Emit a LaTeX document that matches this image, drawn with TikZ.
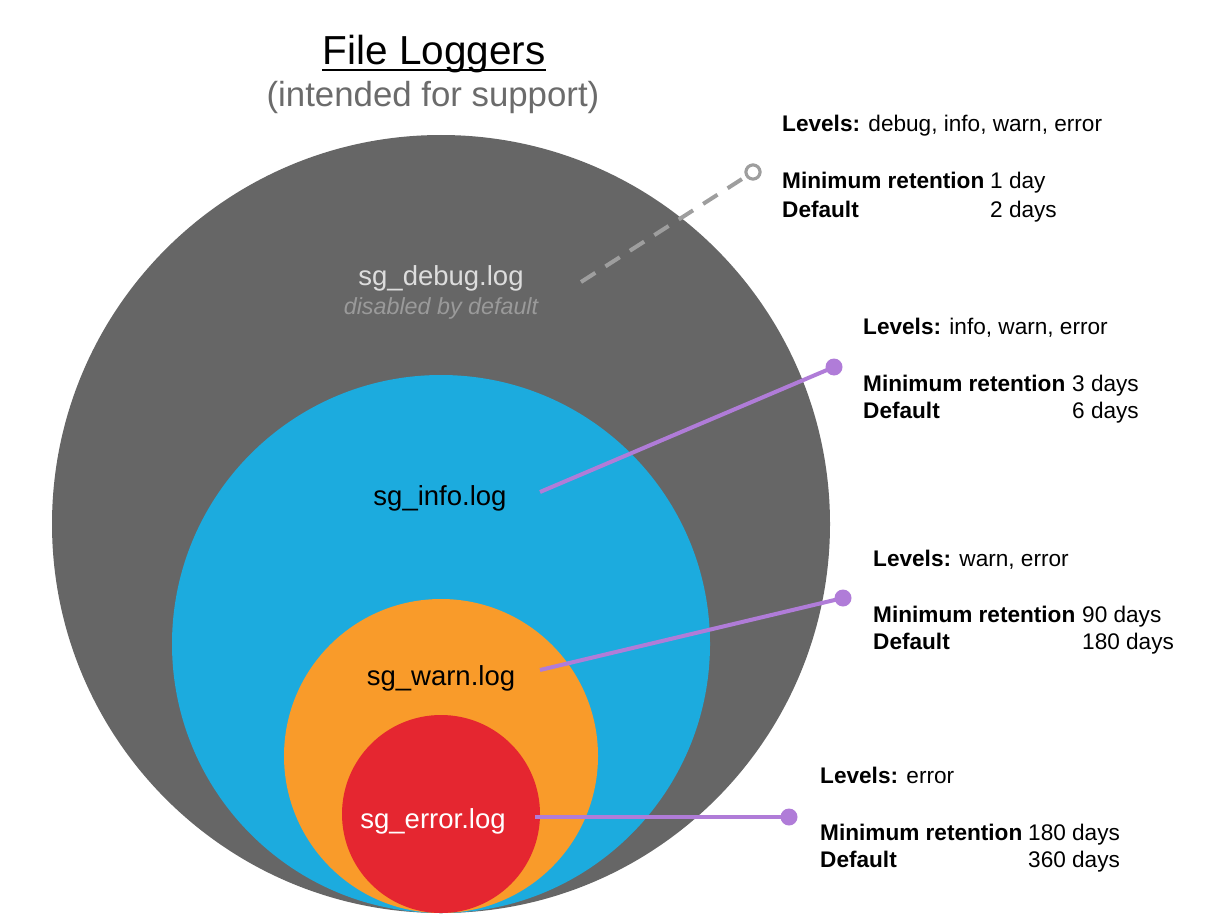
\documentclass[tikz,border=0pt]{standalone}
\usepackage{fontspec}
\setmainfont{Liberation Sans}
\definecolor{cgray}{HTML}{666666}
\definecolor{cblue}{HTML}{1CABDE}
\definecolor{corange}{HTML}{F99B2A}
\definecolor{cred}{HTML}{E52630}
\definecolor{cpurple}{HTML}{B07CD8}
\definecolor{cdash}{HTML}{9E9E9E}
\definecolor{csub}{HTML}{6B6B6B}
\definecolor{cdebugtxt}{HTML}{DDDDDD}
\definecolor{cdisabled}{HTML}{9A9A9A}
\begin{document}
\begin{tikzpicture}[x=1pt,y=-1pt,
  ring/.style={circle,inner sep=0pt,draw=none},
  info/.style={anchor=base west,inner sep=0pt,font=\fontsize{22.6}{27}\selectfont},
  logname/.style={inner sep=0pt,font=\fontsize{27.5}{32}\selectfont},
  pline/.style={draw=cpurple,line width=4pt},
  pdot/.style={circle,fill=cpurple,inner sep=0pt,minimum size=17pt},
  odot/.style={circle,draw=cdash,line width=3pt,fill=white,inner sep=0pt,minimum size=14pt},
  dline/.style={draw=cdash,line width=4pt,dash pattern=on 17pt off 12pt}]
\useasboundingbox (0,0) rectangle (1206,920);
% circles
\node[ring,fill=cgray,minimum size=778pt] (cdebug) at (441,524) {};
\node[ring,fill=cblue,minimum size=538pt] (cinfo) at (441,644) {};
\node[ring,fill=corange,minimum size=314pt] (cwarn) at (441,756) {};
\node[ring,fill=cred,minimum size=198pt] (cerror) at (441,814) {};
% title
\node[anchor=base,inner sep=0pt,font=\fontsize{40.5}{46}\selectfont] (title) at (434,65) {File Loggers};
\draw[line width=2.5pt] ([yshift=-5pt]title.base west) -- ([yshift=-5pt]title.base east);
\node[anchor=base,inner sep=0pt,text=csub,font=\fontsize{34.8}{41}\selectfont] (subtitle) at (433,107) {(intended for support)};
% log names
\node[logname,anchor=base,text=cdebugtxt] (ldebug) at (441,285) {sg\_debug.log};
\node[anchor=base,inner sep=0pt,text=cdisabled,font=\fontsize{23.3}{27}\selectfont\itshape] (ldisabled) at (441,314) {disabled by default};
\node[logname,anchor=base,text=black] (linfo) at (440,505) {sg\_info.log};
\node[logname,anchor=base,text=black] (lwarn) at (441,685) {sg\_warn.log};
\node[logname,anchor=base,text=white] (lerror) at (433,828) {sg\_error.log};
% connectors
\coordinate (dA) at (581,282);
\node[odot] (dB) at (753,172) {};
\draw[dline] (dA) -- (dB);
\node[odot] at (753,172) {};
\coordinate (iA) at (540,492);
\node[pdot] (iB) at (834,367) {};
\draw[pline] (iA) -- (iB.center);
\coordinate (wA) at (540,670);
\node[pdot] (wB) at (843,598) {};
\draw[pline] (wA) -- (wB.center);
\coordinate (eA) at (535,817);
\node[pdot] (eB) at (789,817) {};
\draw[pline] (eA) -- (eB.center);
% block 1
\node[info] (b1l) at (782,132) {\textbf{Levels:} debug, info, warn, error};
\node[info] (b1m) at (782,189) {\textbf{Minimum retention}};
\node[info] (b1mv) at (990,189) {1 day};
\node[info] (b1d) at (782,217) {\textbf{Default}};
\node[info] (b1dv) at (990,217) {2 days};
% block 2
\node[info] (b2l) at (863,334) {\textbf{Levels:} info, warn, error};
\node[info] (b2m) at (863,391) {\textbf{Minimum retention}};
\node[info] (b2mv) at (1072,391) {3 days};
\node[info] (b2d) at (863,418) {\textbf{Default}};
\node[info] (b2dv) at (1072,418) {6 days};
% block 3
\node[info] (b3l) at (873,566) {\textbf{Levels:} warn, error};
\node[info] (b3m) at (873,622) {\textbf{Minimum retention}};
\node[info] (b3mv) at (1082,622) {90 days};
\node[info] (b3d) at (873,649) {\textbf{Default}};
\node[info] (b3dv) at (1082,649) {180 days};
% block 4
\node[info] (b4l) at (820,783) {\textbf{Levels:} error};
\node[info] (b4m) at (820,840) {\textbf{Minimum retention}};
\node[info] (b4mv) at (1028,840) {180 days};
\node[info] (b4d) at (820,867) {\textbf{Default}};
\node[info] (b4dv) at (1028,867) {360 days};
\end{tikzpicture}
\end{document}
